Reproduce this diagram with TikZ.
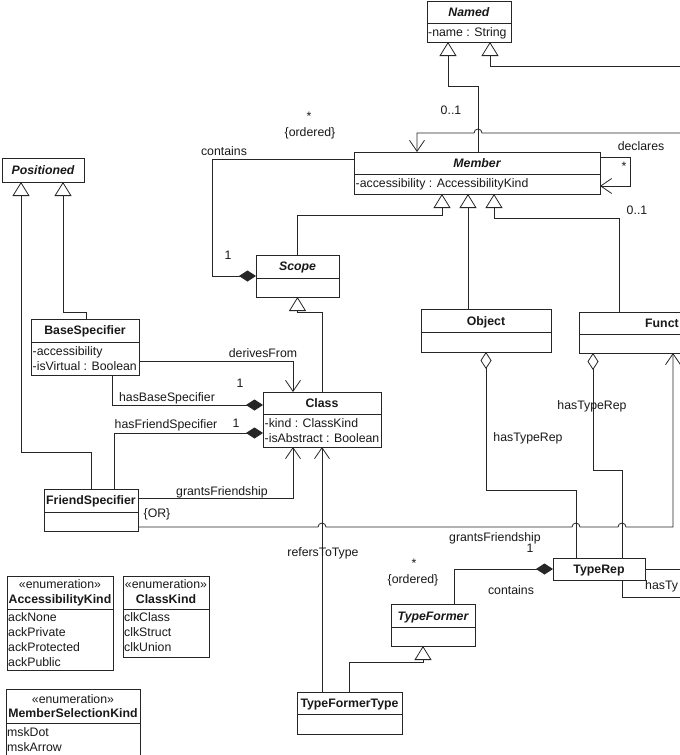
\documentclass[tikz,border=0pt]{standalone}
\usepackage{fontspec}
\setmainfont{Liberation Sans}
\usetikzlibrary{arrows.meta}
\newcommand{\myfs}{\fontsize{12.3}{15}\selectfont}
\newcommand{\umlbox}[5]{%
  \node[boxst, minimum width={(#4-#2)*1pt}, minimum height={(#5-#3)*1pt}] (#1) at ({(#2+#4)/2},{(#3+#5)/2}) {};}
\newcommand{\umldiv}[2]{\draw[ln] (#1.west |- 0,#2) -- (#1.east |- 0,#2);}
\tikzset{
  ln/.style={line width=0.8pt, draw=black!85},
  boxst/.style={draw=black!85, line width=0.9pt, fill=white, inner sep=0pt, outer sep=0pt, rectangle},
  txt/.style={inner sep=0pt, anchor=base, font=\myfs, text=black!90},
  ttl/.style={txt, font=\myfs\bfseries},
  ttli/.style={txt, font=\myfs\bfseries\itshape},
  attr/.style={txt, anchor=base west},
  gen/.style={-{Triangle[length=14pt,width=17pt,fill=white]}},
  nav/.style={-{Straight Barb[length=11pt,width=15pt]}},
  comp/.style={{Diamond[length=17pt,width=11pt]}-},
  aggr/.style={{Diamond[open,length=17pt,width=11pt]}-},
}
\begin{document}
\begin{tikzpicture}[x=1pt,y=-1pt]
\useasboundingbox (0,0) rectangle (680,755);
\clip (0,0) rectangle (680,755);
\fill[white] (0,0) rectangle (680,755);

% ---------- boxes ----------
\umlbox{named}{427}{1}{511}{42}
\umldiv{named}{23}
\node[ttli] (namedT) at (469,16) {Named};
\node[attr] (namedA) at (428,36) {-name : String};

\umlbox{member}{354}{152}{600}{194}
\umldiv{member}{174}
\node[ttli] (memberT) at (477,167) {Member};
\node[attr] (memberA) at (355.5,187) {-accessibility : AccessibilityKind};

\umlbox{positioned}{2}{158}{84}{182}
\node[ttli] (positionedT) at (43,174) {Positioned};

\umlbox{scope}{256}{255}{339}{297}
\umldiv{scope}{278}
\node[ttli] (scopeT) at (297.5,270) {Scope};

\umlbox{base}{31}{319}{139}{375}
\umldiv{base}{342}
\node[ttl] (baseT) at (85,334) {BaseSpecifier};
\node[attr] (baseA1) at (32.5,355) {-accessibility};
\node[attr] (baseA2) at (32.5,370) {-isVirtual : Boolean};

\umlbox{class}{263}{392}{381}{447}
\umldiv{class}{414}
\node[ttl] (classT) at (322,407) {Class};
\node[attr] (classA1) at (264.5,427) {-kind : ClassKind};
\node[attr] (classA2) at (264.5,442) {-isAbstract : Boolean};

\umlbox{friend}{44}{489}{138}{531}
\umldiv{friend}{512}
\node[ttl] (friendT) at (91,504) {FriendSpecifier};

\umlbox{object}{421}{309}{551}{352}
\umldiv{object}{332}
\node[ttl] (objectT) at (486,325) {Object};

\umlbox{funct}{579}{312}{770}{353}
\umldiv{funct}{334}
\node[ttl, anchor=base west] (functT) at (645,327) {Funct};

\umlbox{typerep}{553}{558}{645}{580}
\node[ttl] (typerepT) at (599,573) {TypeRep};

\umlbox{typeformer}{391}{604}{475}{646}
\umldiv{typeformer}{627}
\node[ttli] (typeformerT) at (433,620) {TypeFormer};

\umlbox{tft}{297}{692}{402}{734}
\umldiv{tft}{714}
\node[ttl] (tftT) at (349.5,707) {TypeFormerType};

% enumerations
\umlbox{acck}{7}{576}{113}{670}
\umldiv{acck}{609}
\node[txt] (acckS) at (60,588) {«enumeration»};
\node[ttl] (acckT) at (60,603) {AccessibilityKind};
\node[attr] (acck1) at (8,621) {ackNone};
\node[attr] (acck2) at (8,636) {ackPrivate};
\node[attr] (acck3) at (8,651) {ackProtected};
\node[attr] (acck4) at (8,666) {ackPublic};

\umlbox{clk}{123}{576}{209}{657}
\umldiv{clk}{609}
\node[txt] (clkS) at (166,588) {«enumeration»};
\node[ttl] (clkT) at (166,603) {ClassKind};
\node[attr] (clk1) at (124,621) {clkClass};
\node[attr] (clk2) at (124,636) {clkStruct};
\node[attr] (clk3) at (124,651) {clkUnion};

\umlbox{msk}{6}{689}{140}{780}
\umldiv{msk}{723}
\node[txt] (mskS) at (73,703) {«enumeration»};
\node[ttl] (mskT) at (73,717) {MemberSelectionKind};
\node[attr] (msk1) at (7,736) {mskDot};
\node[attr] (msk2) at (7,751) {mskArrow};

% ---------- connectors ----------
\coordinate (offA) at (681,66);
\coordinate (offB) at (681,133);
\coordinate (offC) at (681,569);
\coordinate (offD) at (681,597);

\draw[ln,gen] (member.north -| 478,0) -- (478,86) -- (448,86) -- (named.south -| 448,0);
\draw[ln,gen] (offA) -- (490,66) -- (named.south -| 490,0);
\draw[ln,nav] (offB) -- (482,133) arc[start angle=0,end angle=180,radius=4pt] -- (417,133) -- (member.north -| 417,0);
\draw[ln,nav] (member.east |- 0,157) -- (630,157) -- (630,186) -- (member.east |- 0,186);

\draw[ln,gen] (scope.north -| 297.5,0) -- (297.5,215) -- (442,215) -- (member.south -| 442,0);
\draw[ln,gen] (object.north -| 468,0) -- (member.south -| 468,0);
\draw[ln,gen] (funct.north -| 619,0) -- (619,218) -- (494,218) -- (member.south -| 494,0);

\draw[ln,comp] (scope.west |- 0,276) -- (212,276) -- (212,159) -- (member.west |- 0,159);

\draw[ln,gen] (friend.north -| 91,0) -- (91,452) -- (21,452) -- (positioned.south -| 21,0);
\draw[ln,gen] (base.north -| 86,0) -- (86,312) -- (63,312) -- (positioned.south -| 63,0);

\draw[ln,gen] (class.north -| 322,0) -- (322,312) -- (297.5,312) -- (scope.south -| 297.5,0);

\draw[ln,nav] (base.east |- 0,361) -- (293,361) -- (class.north -| 293,0);
\draw[ln,comp] (class.west |- 0,405) -- (112,405) -- (base.south -| 112,0);
\draw[ln,comp] (class.west |- 0,433) -- (114,433) -- (friend.north -| 114,0);

\draw[ln,nav] (friend.east |- 0,498) -- (293,498) -- (class.south -| 293,0);
\draw[ln,nav] (friend.east |- 0,527) -- (318,527) arc[start angle=180,end angle=0,radius=4pt]
   -- (572,527) arc[start angle=180,end angle=0,radius=4pt]
   -- (618,527) arc[start angle=180,end angle=0,radius=4pt]
   -- (673,527) -- (funct.south -| 673,0);

\draw[ln,nav] (tft.north -| 322,0) -- (class.south -| 322,0);

\draw[ln,aggr] (object.south -| 486,0) -- (486,490) -- (576,490) -- (typerep.north -| 576,0);
\draw[ln,aggr] (funct.south -| 593,0) -- (593,470) -- (622,470) -- (typerep.north -| 622,0);

\draw[ln,comp] (typerep.west |- 0,569) -- (454,569) -- (typeformer.north -| 454,0);
\draw[ln,gen] (tft.north -| 349,0) -- (349,662) -- (423,662) -- (typeformer.south -| 423,0);

\draw[ln] (typerep.east |- 0,569) -- (offC);
\draw[ln] (typerep.south -| 622,0) -- (622,597) -- (offD);

% ---------- labels ----------
\node[txt] (lb1) at (309,120) {*};
\node[txt] (lb2) at (310,136) {\{ordered\}};
\node[txt] (lb3) at (224,155) {contains};
\node[txt] (lb4) at (451,114) {0..1};
\node[txt] (lb5) at (641,150) {declares};
\node[txt] (lb6) at (624,170) {*};
\node[txt] (lb7) at (637,214) {0..1};
\node[txt] (lb8) at (228,259) {1};
\node[txt] (lb9) at (263,357) {derivesFrom};
\node[txt] (lb10) at (240,387) {1};
\node[txt] (lb11) at (167,401) {hasBaseSpecifier};
\node[txt] (lb12) at (166,428) {hasFriendSpecifier};
\node[txt] (lb13) at (236,427) {1};
\node[txt] (lb14) at (222,495) {grantsFriendship};
\node[txt] (lb15) at (157,517) {\{OR\}};
\node[txt] (lb16) at (323,556) {refersToType};
\node[txt] (lb17) at (495,541) {grantsFriendship};
\node[txt] (lb18) at (530,552) {1};
\node[txt] (lb19) at (414,567) {*};
\node[txt] (lb20) at (413,583) {\{ordered\}};
\node[txt] (lb21) at (511,594) {contains};
\node[txt, anchor=base west] (lb22) at (645,589) {hasTy};
\node[txt] (lb23) at (528,441) {hasTypeRep};
\node[txt] (lb24) at (592,409) {hasTypeRep};
\end{tikzpicture}
\end{document}
